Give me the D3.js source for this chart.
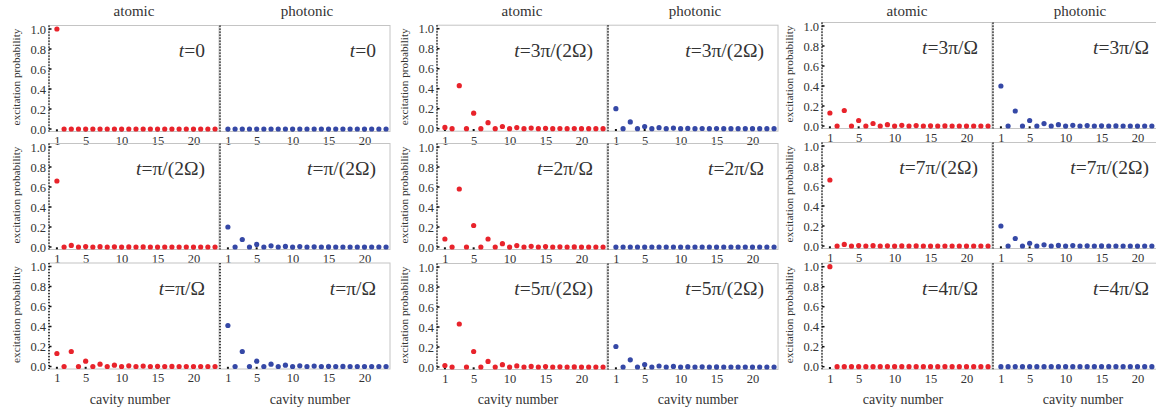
<!DOCTYPE html>
<html>
<head>
<meta charset="utf-8">
<script src="https://cdn.jsdelivr.net/npm/d3@7"></script>
<style>
  body { margin: 0; background: #fff; }
  svg { display: block; }
  text { font-family: "Liberation Serif", "DejaVu Serif", serif; fill: #333; }
</style>
</head>
<body>
<svg id="chart" width="1156" height="411"></svg>
<script>
// cavity index along the chain
var cavities = [1,2,3,4,5,6,7,8,9,10,11,12,13,14,15,16,17,18,19,20,21,22,23];
var xTicks = [1, 5, 10, 15, 20];
var yTicks = [0, 0.2, 0.4, 0.6, 0.8, 1.0];
var yTickLabels = ["0.0", "0.2", "0.4", "0.6", "0.8", "1.0"];
var kinds = ["atomic", "photonic"];

// time labels, column by column (top to bottom)
var timeLabels = [
  ["0", "\u03c0/(2\u03a9)", "\u03c0/\u03a9"],
  ["3\u03c0/(2\u03a9)", "2\u03c0/\u03a9", "5\u03c0/(2\u03a9)"],
  ["3\u03c0/\u03a9", "7\u03c0/(2\u03a9)", "4\u03c0/\u03a9"]
];

// excitation probabilities
var atomic_t0    = [1.0,0,0,0,0,0,0,0,0,0,0,0,0,0,0,0,0,0,0,0,0,0,0];
var photonic_t0  = [0,0,0,0,0,0,0,0,0,0,0,0,0,0,0,0,0,0,0,0,0,0,0];
var atomic_t1    = [0.66,0,0.016,0,0.005,0,0.003,0,0.002,0,0.001,0,0.001,0,0,0,0,0,0,0,0,0,0];
var photonic_t1  = [0.20,0,0.075,0,0.026,0,0.012,0,0.006,0,0.004,0,0.002,0,0.001,0,0,0,0,0,0,0,0];
var atomic_t2    = [0.13,0,0.15,0,0.053,0,0.023,0,0.013,0,0.007,0,0.004,0,0.002,0,0.001,0,0,0,0,0,0];
var photonic_t2  = [0.41,0,0.15,0,0.053,0,0.023,0,0.013,0,0.007,0,0.004,0,0.002,0,0.001,0,0,0,0,0,0];
var atomic_t3    = [0.013,0,0.43,0,0.155,0,0.06,0,0.022,0,0.011,0,0.006,0,0.004,0,0.002,0,0.001,0,0,0,0];
var photonic_t3  = [0.20,0,0.068,0,0.022,0,0.01,0,0.006,0,0.003,0,0.002,0,0.001,0,0,0,0,0,0,0,0];
var atomic_t4    = [0.08,0,0.58,0,0.215,0,0.08,0,0.033,0,0.014,0,0.007,0,0.004,0,0.002,0,0.001,0,0,0,0];
var photonic_t4  = [0,0,0,0,0,0,0,0,0,0,0,0,0,0,0,0,0,0,0,0,0,0,0];
var atomic_t5    = [0.015,0,0.43,0,0.155,0,0.056,0,0.023,0,0.011,0,0.006,0,0.004,0,0.002,0,0.001,0,0,0,0];
var photonic_t5  = [0.205,0,0.072,0,0.025,0,0.01,0,0.006,0,0.003,0,0.002,0,0.001,0,0,0,0,0,0,0,0];
var atomic_t6    = [0.13,0,0.155,0,0.055,0,0.025,0,0.013,0,0.007,0,0.004,0,0.002,0,0.001,0,0,0,0,0,0];
var photonic_t6  = [0.40,0,0.15,0,0.055,0,0.024,0,0.013,0,0.007,0,0.004,0,0.002,0,0.001,0,0,0,0,0,0];
var atomic_t7    = [0.66,0,0.016,0,0.005,0,0.003,0,0.002,0,0.001,0,0.001,0,0,0,0,0,0,0,0,0,0];
var photonic_t7  = [0.20,0,0.075,0,0.027,0,0.012,0,0.006,0,0.004,0,0.002,0,0.001,0,0,0,0,0,0,0,0];
var atomic_t8    = [1.0,0,0,0,0,0,0,0,0,0,0,0,0,0,0,0,0,0,0,0,0,0,0];
var photonic_t8  = [0,0,0,0,0,0,0,0,0,0,0,0,0,0,0,0,0,0,0,0,0,0,0];

var atomicSeries   = [[atomic_t0, atomic_t1, atomic_t2], [atomic_t3, atomic_t4, atomic_t5], [atomic_t6, atomic_t7, atomic_t8]];
var photonicSeries = [[photonic_t0, photonic_t1, photonic_t2], [photonic_t3, photonic_t4, photonic_t5], [photonic_t6, photonic_t7, photonic_t8]];

var colors = { atomic: "#e8232b", photonic: "#3548a6" };
var serif = "'Liberation Serif', 'DejaVu Serif', serif";

// layout
var colLeft = [49, 437, 822];
var panelW = 170, panelGap = 1;
var rowTop = [[29, 147, 266.5], [28.7, 147, 267], [26, 146, 266.7]];   // y of 1.0
var panelH = 100;

var svg = d3.select("#chart");

for (let c = 0; c < 3; c++) {
  kinds.forEach(function (kind, k) {
    var left = colLeft[c] + k * (panelW + panelGap);
    svg.append("text")
      .attr("x", left + panelW / 2 + (k ? 2 : 0))
      .attr("y", 16)
      .attr("text-anchor", "middle")
      .style("font-size", "15px")
      .text(kind);
  });

  for (let r = 0; r < 3; r++) {
    let yTop = rowTop[c][r];
    let y = d3.scaleLinear().domain([0, 1]).range([yTop + panelH, yTop]);

    // y-axis title
    svg.append("text")
      .attr("transform", "translate(" + (colLeft[c] - 29) + "," + (yTop + panelH / 2 - 2) + ") rotate(-90)")
      .attr("text-anchor", "middle")
      .style("font-size", "11.3px")
      .text("excitation probability");

    kinds.forEach(function (kind, k) {
      var left = colLeft[c] + k * (panelW + panelGap);
      var x = d3.scaleLinear().domain([-0.1, 23.55]).range([left, left + panelW]);
      var vals = (kind == "atomic" ? atomicSeries : photonicSeries)[c][r];
      var g = svg.append("g").attr("class", kind);

      // light frame
      g.append("rect")
        .attr("x", left)
        .attr("y", y(1.035))
        .attr("width", panelW)
        .attr("height", y(-0.025) - y(1.035))
        .attr("fill", "none")
        .attr("stroke", "#c4c4c4")
        .attr("stroke-width", 1);

      // dotted y axis
      g.append("line")
        .attr("x1", left).attr("x2", left)
        .attr("y1", y(1.035)).attr("y2", y(-0.025))
        .attr("stroke", "#000")
        .attr("stroke-width", 1.4)
        .attr("stroke-dasharray", "1.3,1.7");

      if (kind == "atomic") {
        var ya = d3.axisLeft(y).tickValues(yTicks)
          .tickFormat(function (d, i) { return yTickLabels[i]; })
          .tickSize(0).tickPadding(3);
        var ag = g.append("g").attr("transform", "translate(" + left + ",0)").call(ya)
          .attr("font-family", serif).attr("font-size", 12.5);
        ag.select(".domain").remove();
        ag.selectAll("text").attr("fill", "#333");
        g.selectAll(".ytick").data(yTicks).enter().append("rect")
          .attr("x", left).attr("y", function (d) { return y(d) - 0.75; })
          .attr("width", 2.5).attr("height", 1.5).attr("fill", "#111");
      }

      // x tick labels
      var xa = d3.axisBottom(x).tickValues(xTicks).tickSize(0).tickPadding(5);
      var xg = g.append("g").attr("transform", "translate(0," + (y(0) + 2) + ")").call(xa)
        .attr("font-family", serif).attr("font-size", 12.5);
      xg.select(".domain").remove();
      xg.selectAll("text").attr("fill", "#333");

      // tick dots on the baseline
      g.selectAll(".xtick").data(xTicks).enter().append("rect")
        .attr("x", function (d) { return x(d) - 1; })
        .attr("y", y(0) + 0.3)
        .attr("width", 2).attr("height", 2).attr("fill", "#111");

      // data points
      g.selectAll("circle").data(cavities).enter().append("circle")
        .attr("cx", function (d) { return x(d); })
        .attr("cy", function (d, i) { return y(vals[i]); })
        .attr("r", 2.6)
        .attr("fill", colors[kind]);

      // time label
      var t = g.append("text")
        .attr("x", left + panelW - 14)
        .attr("y", y(1) + 28)
        .attr("text-anchor", "end")
        .style("font-size", "19.5px")
        .attr("fill", "#222");
      t.append("tspan").style("font-style", "italic").text("t");
      t.append("tspan").text("=" + timeLabels[c][r]);

      if (r == 2) {
        svg.append("text")
          .attr("x", left + panelW / 2 + (k ? 5 : -4))
          .attr("y", 404)
          .attr("text-anchor", "middle")
          .style("font-size", "14px")
          .text("cavity number");
      }
    });
  }
}
</script>
</body>
</html>
